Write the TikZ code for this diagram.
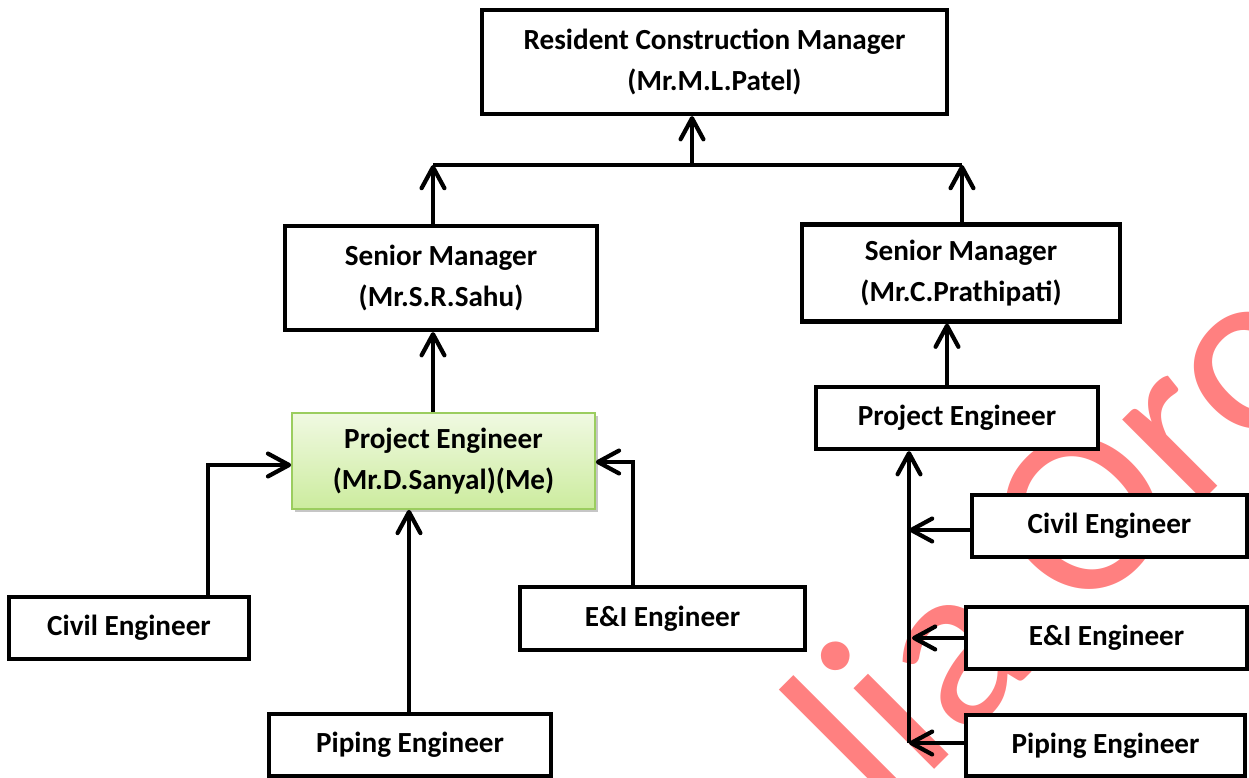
\documentclass[tikz,border=0pt]{standalone}
\usepackage{fontspec}
\setmainfont{Carlito}
\usetikzlibrary{positioning,arrows.meta,shadows}
\definecolor{wmred}{RGB}{255,128,128}
\definecolor{meline}{RGB}{155,205,95}
\definecolor{metop}{RGB}{240,249,226}
\definecolor{mebottom}{RGB}{204,236,158}
\tikzset{
  >={Straight Barb[length=12pt,width=13pt,round]},
  box/.style={draw, line width=2.4pt, fill=white, align=center,
    font=\bfseries\fontsize{16.6}{23.8}\selectfont, inner sep=0pt},
  mebox/.style={box, draw=meline, line width=1pt, top color=metop, bottom color=mebottom,
    drop shadow={shadow xshift=1.6pt, shadow yshift=-1.6pt, opacity=.45}},
  link/.style={line width=2.4pt},
}

\begin{document}
\begin{tikzpicture}[x=0.02cm, y=-0.02cm]
    \useasboundingbox (0,0) rectangle (1249,778);

    % watermark behind everything
    \begin{scope}
      \clip (0,0) rectangle (1249,778);
      \node[anchor=base west, rotate=45, inner sep=0pt, text=wmred,
        font=\fontsize{136}{136}\selectfont] (mark) at (884,820) {lia Oro};
    \end{scope}

    \node[box, minimum width=9.3cm,  minimum height=2.08cm] (rcm)  at (714.5,62)   {Resident Construction Manager\\(Mr.M.L.Patel)};
    \node[box, minimum width=6.24cm, minimum height=2.08cm] (smL)  at (441,278)    {Senior Manager\\(Mr.S.R.Sahu)};
    \node[box, minimum width=6.36cm, minimum height=1.94cm] (smR)  at (961,273)    {Senior Manager\\(Mr.C.Prathipati)};
    \node[mebox, minimum width=6.06cm, minimum height=1.92cm] (peL) at (443.5,461) {Project Engineer\\(Mr.D.Sanyal)(Me)};
    \node[box, minimum width=5.64cm, minimum height=1.24cm] (peR)  at (957,418)    {Project Engineer};
    \node[box, minimum width=4.8cm,  minimum height=1.24cm] (civL) at (129,628)    {Civil Engineer};
    \node[box, minimum width=5.7cm,  minimum height=1.26cm] (eiL)  at (662.5,618.5){E\&I Engineer};
    \node[box, minimum width=5.64cm, minimum height=1.24cm] (pipL) at (410,745)    {Piping Engineer};
    \node[box, minimum width=5.5cm,  minimum height=1.24cm] (civR) at (1109.5,526)  {Civil Engineer};
    \node[box, minimum width=5.62cm, minimum height=1.24cm] (eiR)  at (1106.5,638)  {E\&I Engineer};
    \node[box, minimum width=5.58cm, minimum height=1.22cm] (pipR) at (1105.5,745.5){Piping Engineer};

    % junction points
    \coordinate (barL) at (433,165);
    \coordinate (barM) at (692,165);
    \coordinate (barR) at (962,165);
    \coordinate (upR)  at (947,0);
    \coordinate (civJ) at (208,465);
    \coordinate (eiJ)  at (633,462);
    \coordinate (pipJ) at (409,0);
    \coordinate (trunk) at (909,743);
    \coordinate (civT) at (909,530);
    \coordinate (eiT)  at (912,638);

    \draw[link] (barL) -- (barR);
    \path[link,->]
      (smL.north -| barL) edge (barL)
      (smR.north -| barR) edge (barR)
      (barM)              edge (rcm.south -| barM)
      (peL.north -| barL) edge (smL.south -| barL)
      (peR.north -| upR)  edge (smR.south -| upR)
      (pipL.north -| pipJ) edge (peL.south -| pipJ)
      (trunk)             edge (peR.south -| trunk)
      (civR.west |- civT) edge (civT)
      (eiR.west |- eiT)   edge (eiT)
      (pipR.west |- trunk) edge (trunk);
    \draw[link,->] (civL.north -| civJ) |- (peL.west |- civJ);
    \draw[link,->] (eiL.north -| eiJ) |- (peL.east |- eiJ);
\end{tikzpicture}
\end{document}
